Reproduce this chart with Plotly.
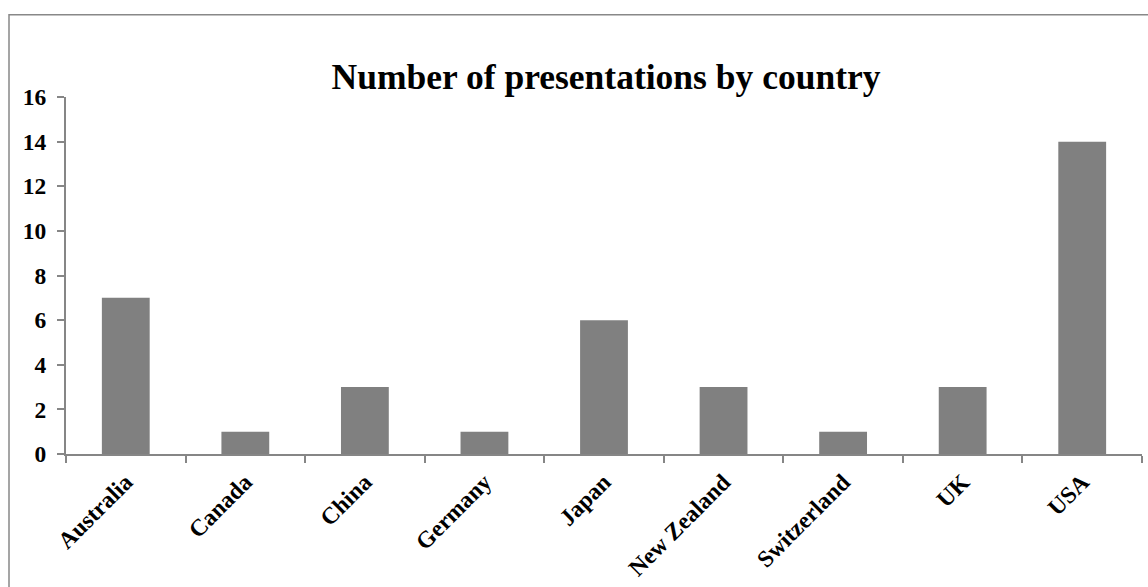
import plotly.graph_objects as go

countries = ["Australia", "Canada", "China", "Germany", "Japan", "New Zealand", "Switzerland", "UK", "USA"]
presentations = [7, 1, 3, 1, 6, 3, 1, 3, 14]
y_ticks = [0, 2, 4, 6, 8, 10, 12, 14, 16]

W, H = 1148, 587
L, R, T, B = 66, 6, 96.5, 132.5
pw, ph = W - L - R, H - T - B

fig = go.Figure(go.Bar(x=countries, y=presentations, marker=dict(color="#808080", line=dict(width=0))))

axis_col = "#868686"
font_serif = "Liberation Serif, Times New Roman, serif"

fig.update_layout(
    width=W, height=H,
    margin=dict(l=L, r=R, t=T, b=B, autoexpand=False),
    paper_bgcolor="white", plot_bgcolor="white",
    bargap=0.6,
    showlegend=False,
    font=dict(family=font_serif, color="black"),
    title=dict(text="<b>Number of presentations by country</b>", x=606 / W, xanchor="center",
               y=1 - 77 / H, yanchor="middle", yref="container",
               font=dict(size=35.5, family=font_serif, color="black")),
    xaxis=dict(showline=True, linecolor=axis_col, linewidth=2, ticks="outside", tickson="boundaries",
               ticklen=7, tickcolor=axis_col, tickwidth=2, tickangle=-45, ticklabelstandoff=3,
               tickfont=dict(size=23.5, family=font_serif, color="black", weight="bold"),
               showgrid=False, zeroline=False),
    yaxis=dict(range=[0, 16], tickvals=y_ticks, showline=True, linecolor=axis_col, linewidth=2,
               ticks="outside", ticklen=7, tickcolor=axis_col, tickwidth=2, ticklabelstandoff=6,
               tickfont=dict(size=23.5, family=font_serif, color="black", weight="bold"),
               showgrid=False, zeroline=False),
)

# chart-area border (extends past right and bottom edges)
fig.add_shape(type="rect", xref="paper", yref="paper",
              x0=(9 - L) / pw, x1=(W + 20 - L) / pw,
              y0=-(H + 20 - (H - B)) / ph, y1=((H - B) - 14) / ph,
              line=dict(color="#888888", width=1.5), fillcolor="rgba(0,0,0,0)", layer="below")

fig.write_html("out.html")
